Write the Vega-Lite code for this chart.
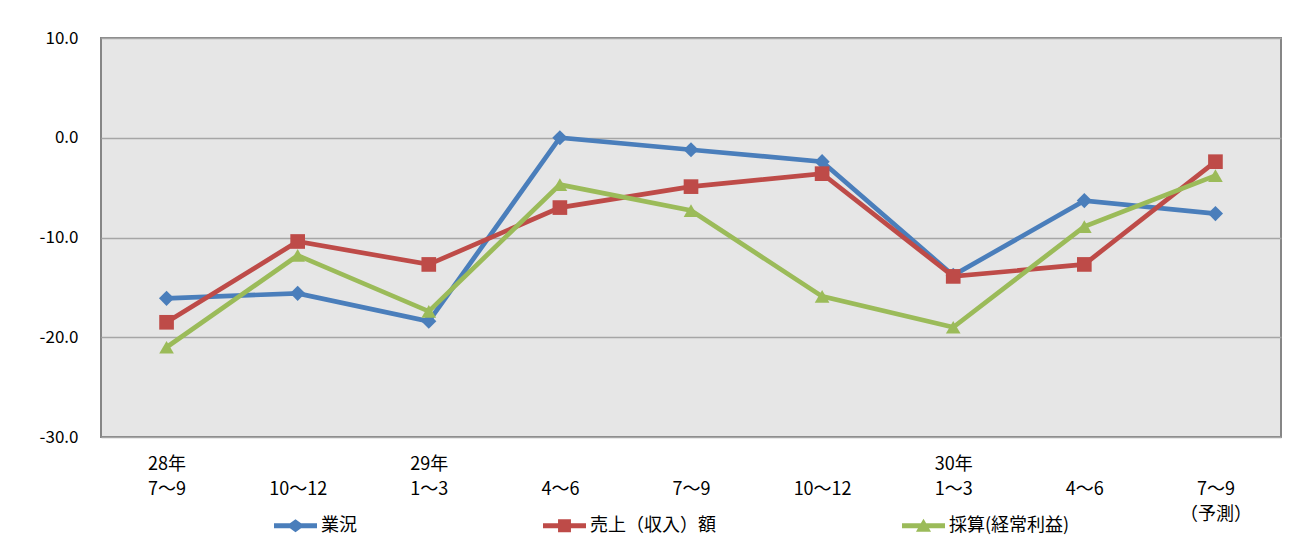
{
  "$schema": "https://vega.github.io/schema/vega-lite/v6.json",
  "autosize": {"type": "none"},
  "width": 1180,
  "height": 399,
  "padding": {"left": 101, "top": 38, "right": 12, "bottom": 120},
  "background": "white",
  "config": {
    "font": "Noto Sans CJK JP",
    "view": {"fill": "#e6e6e6", "stroke": "#868686", "strokeWidth": 2},
    "axis": {"gridColor": "#a6a6a6", "gridWidth": 1.5, "gridOpacity": 1, "domain": false, "ticks": false, "tickSize": 0, "labelColor": "#000000", "title": null}
  },
  "data": {
    "values": [
      {"period": "28年7〜9", "series": "業況", "value": -16.1},
      {"period": "28年10〜12", "series": "業況", "value": -15.6},
      {"period": "29年1〜3", "series": "業況", "value": -18.4},
      {"period": "29年4〜6", "series": "業況", "value": 0.0},
      {"period": "29年7〜9", "series": "業況", "value": -1.2},
      {"period": "29年10〜12", "series": "業況", "value": -2.4},
      {"period": "30年1〜3", "series": "業況", "value": -13.8},
      {"period": "30年4〜6", "series": "業況", "value": -6.3},
      {"period": "30年7〜9（予測）", "series": "業況", "value": -7.6},
      {"period": "28年7〜9", "series": "売上（収入）額", "value": -18.5},
      {"period": "28年10〜12", "series": "売上（収入）額", "value": -10.4},
      {"period": "29年1〜3", "series": "売上（収入）額", "value": -12.7},
      {"period": "29年4〜6", "series": "売上（収入）額", "value": -7.0},
      {"period": "29年7〜9", "series": "売上（収入）額", "value": -4.9},
      {"period": "29年10〜12", "series": "売上（収入）額", "value": -3.6},
      {"period": "30年1〜3", "series": "売上（収入）額", "value": -13.9},
      {"period": "30年4〜6", "series": "売上（収入）額", "value": -12.7},
      {"period": "30年7〜9（予測）", "series": "売上（収入）額", "value": -2.4},
      {"period": "28年7〜9", "series": "採算(経常利益)", "value": -21.0},
      {"period": "28年10〜12", "series": "採算(経常利益)", "value": -11.8},
      {"period": "29年1〜3", "series": "採算(経常利益)", "value": -17.4},
      {"period": "29年4〜6", "series": "採算(経常利益)", "value": -4.7},
      {"period": "29年7〜9", "series": "採算(経常利益)", "value": -7.3},
      {"period": "29年10〜12", "series": "採算(経常利益)", "value": -15.9},
      {"period": "30年1〜3", "series": "採算(経常利益)", "value": -19.0},
      {"period": "30年4〜6", "series": "採算(経常利益)", "value": -8.9},
      {"period": "30年7〜9（予測）", "series": "採算(経常利益)", "value": -3.8}
    ]
  },
  "encoding": {
    "x": {
      "field": "period",
      "type": "ordinal",
      "sort": null,
      "scale": {"type": "point", "padding": 0.5},
      "axis": {
        "labelAngle": 0,
        "labelFontSize": 18,
        "labelBaseline": "middle",
        "labelLineHeight": 25,
        "labelPadding": 27,
        "labelExpr": "datum.value == '28年7〜9' ? ['28年', '7〜9', ''] : datum.value == '29年1〜3' ? ['29年', '1〜3', ''] : datum.value == '30年1〜3' ? ['30年', '1〜3', ''] : datum.value == '30年7〜9（予測）' ? ['', '7〜9', '（予測）'] : ['', substring(datum.value, indexof(datum.value, '年') + 1), '']"
      }
    },
    "y": {
      "field": "value",
      "type": "quantitative",
      "scale": {"domain": [-30, 10], "nice": false, "zero": false},
      "axis": {
        "values": [-30, -20, -10, 0, 10],
        "labelExpr": "replace(format(datum.value, '.1f'), '−', '-')",
        "labelFontSize": 17,
        "labelPadding": 23
      }
    },
    "color": {
      "field": "series",
      "type": "nominal",
      "scale": {"domain": ["業況", "売上（収入）額", "採算(経常利益)"], "range": ["#4a7ebb", "#be4b48", "#9bbb59"]},
      "legend": {
        "title": null,
        "orient": "none",
        "direction": "horizontal",
        "legendX": 173,
        "legendY": 466,
        "padding": 0,
        "columnPadding": 186,
        "symbolSize": 1849,
        "labelOffset": 4,
        "labelFontSize": 18,
        "labelColor": "#000000",
        "encode": {
          "symbols": {
            "update": {
              "shape": {"signal": "datum.value == '業況' ? 'M-1,-0.116H-0.257L0,-0.3L0.257,-0.116H1V0.116H0.257L0,0.3L-0.257,0.116H-1Z' : datum.value == '売上（収入）額' ? 'M-1,-0.116H-0.3V-0.3H0.3V-0.116H1V0.116H0.3V0.3H-0.3V0.116H-1Z' : 'M-1,-0.116H-0.123L0,-0.33L0.123,-0.116H1V0.116H0.256L0.35,0.28H-0.35L-0.256,0.116H-1Z'"},
              "fill": {"signal": "scale('color', datum.value)"},
              "fillOpacity": {"value": 1},
              "opacity": {"value": 1},
              "stroke": {"value": "transparent"},
              "strokeWidth": {"value": 0}
            }
          }
        }
      }
    }
  },
  "layer": [
    {
      "mark": {"type": "line", "strokeWidth": 4.7}
    },
    {
      "transform": [{"filter": "datum.series == '業況'"}],
      "mark": {"type": "point", "shape": "diamond", "filled": true, "opacity": 1, "size": 230}
    },
    {
      "transform": [{"filter": "datum.series == '売上（収入）額'"}],
      "mark": {"type": "point", "shape": "square", "filled": true, "opacity": 1, "size": 215}
    },
    {
      "transform": [{"filter": "datum.series == '採算(経常利益)'"}],
      "mark": {"type": "point", "shape": "triangle-up", "filled": true, "opacity": 1, "size": 215}
    }
  ]
}
